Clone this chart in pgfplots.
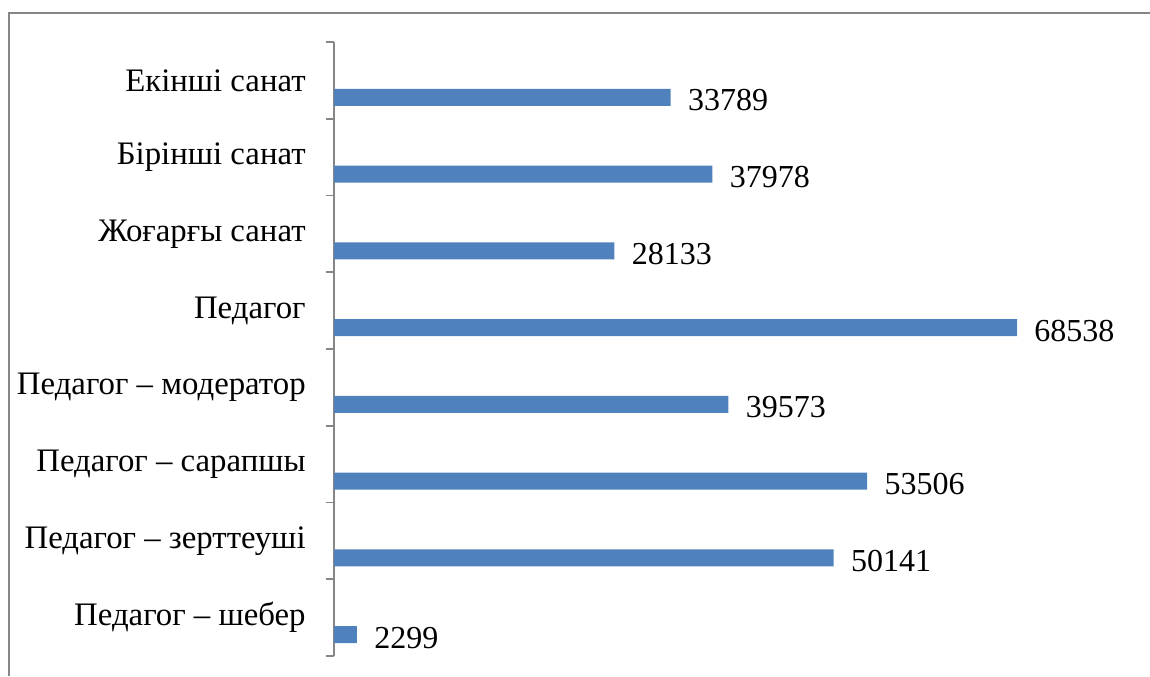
\documentclass[border=0pt]{standalone}
\usepackage{fontspec}
\setmainfont{Liberation Serif}
\usepackage{pgfplots}
\pgfplotsset{compat=1.18}
\definecolor{barblue}{RGB}{79,129,189}
\definecolor{axgray}{RGB}{134,134,134}
\newcommand{\lbl}{\fontsize{16.4}{19}\selectfont}
\newcommand{\val}{\fontsize{16}{19}\selectfont}
\begin{document}
\begin{tikzpicture}
\path[use as bounding box] (0pt,0pt) rectangle (575pt,-338pt);
% outer frame (only left and top edges visible)
\draw[axgray, line width=1pt] (4.5pt,-338pt) -- (4.5pt,-6.5pt) -- (575pt,-6.5pt);
\begin{axis}[
  at={(167pt,-328pt)}, anchor=south west,
  scale only axis, width=408pt, height=307pt,
  xbar, bar width=8.4pt, bar shift=-8.5pt,
  xmin=0, xmax=81885,
  ymin=-0.5, ymax=7.5,
  axis x line=none, axis y line*=left,
  y axis line style={draw=axgray, line width=0.8pt, -},
  ytick={0,...,7},
  yticklabels={Педагог – шебер, Педагог – зерттеуші, Педагог – сарапшы,
    Педагог – модератор, Педагог, Жоғарғы санат, Бірінші санат, Екінші санат},
  major tick length=0pt,
  minor ytick={-0.5,0.5,...,7.5},
  minor tick length=4pt,
  tick align=outside,
  minor tick style={draw=axgray, line width=0.8pt},
  yticklabel style={font=\lbl, anchor=east, inner sep=0pt, xshift=-14pt},
  point meta=x,
  nodes near coords={\pgfmathprintnumber[fixed,precision=0,1000 sep={}]{\pgfplotspointmeta}},
  nodes near coords style={font=\val, anchor=west, inner sep=0pt, xshift=8.5pt, yshift=-1.5pt, text=black},
  /pgf/number format/assume math mode=true,
  clip=false,
]
  \addplot[fill=barblue, draw=none] coordinates {
    (2299,0) (50141,1) (53506,2) (39573,3)
    (68538,4) (28133,5) (37978,6) (33789,7)
  };
\end{axis}
\end{tikzpicture}
\end{document}
